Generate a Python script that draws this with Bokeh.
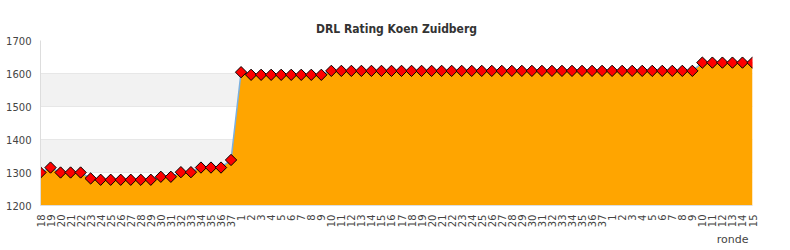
from bokeh.plotting import figure
from bokeh.models import FixedTicker, Range1d, Title, BoxAnnotation
from bokeh.embed import file_html
from bokeh.resources import INLINE
import math

rondes = ([str(i) for i in range(18, 38)] + [str(i) for i in range(1, 38)]
          + [str(i) for i in range(1, 16)])
ratings = ([1300, 1315, 1300, 1300, 1300, 1282, 1278, 1278, 1278, 1278, 1278, 1278,
            1287, 1287, 1301, 1301, 1315, 1315, 1315, 1338]
           + [1604] + [1596] * 8 + [1608] * 28
           + [1608] * 9 + [1633] * 6)
y_ticks = [1200, 1300, 1400, 1500, 1600, 1700]

xs = list(range(len(rondes)))

p = figure(width=790, height=250, output_backend="svg", toolbar_location=None,
           x_range=Range1d(0, len(rondes) - 1), y_range=Range1d(1200, 1700),
           min_border_left=40, min_border_right=38, min_border_top=40,
           min_border_bottom=45)
p.title.text = "DRL Rating Koen Zuidberg"
p.title.align = "center"
p.title.text_font = "DejaVu Sans Condensed"
p.title.text_font_style = "bold"
p.title.text_font_size = "12px"
p.title.text_color = "#333333"
p.outline_line_color = None

# alternating background bands (1300-1400, 1500-1600)
for i in range(1, len(y_ticks) - 1, 2):
    p.add_layout(BoxAnnotation(bottom=y_ticks[i], top=y_ticks[i + 1],
                               fill_color="#f2f2f2", fill_alpha=1.0,
                               line_color=None, level="underlay"))

p.varea(x=xs, y1=[1200] * len(xs), y2=ratings, fill_color="#FFA500")
p.line(xs, ratings, line_color="#7ab0e0", line_width=1.5)
p.scatter(xs, ratings, marker="square", angle=math.pi / 4, size=8,
          fill_color="#FF0000", line_color="black", line_width=1)

p.xaxis.ticker = FixedTicker(ticks=xs)
p.xaxis.major_label_overrides = {i: r for i, r in enumerate(rondes)}
p.xaxis.major_label_orientation = math.pi / 2
p.yaxis.ticker = FixedTicker(ticks=y_ticks)
for ax in (p.xaxis, p.yaxis):
    ax.major_label_text_font = "DejaVu Sans"
    ax.major_label_text_font_size = "10px"
    ax.major_label_text_color = "#444444"
    ax.major_tick_line_color = None
    ax.minor_tick_line_color = None
    ax.axis_line_color = "#dddddd"
    ax.major_label_standoff = 3

p.xgrid.grid_line_color = None
p.ygrid.grid_line_color = "#dddddd"

p.add_layout(Title(text="ronde", align="right", offset=4, text_font="DejaVu Sans",
                   text_font_size="11px", text_font_style="normal",
                   text_color="#444444", standoff=0), "below")

open("out.html", "w").write(file_html(p, INLINE))
